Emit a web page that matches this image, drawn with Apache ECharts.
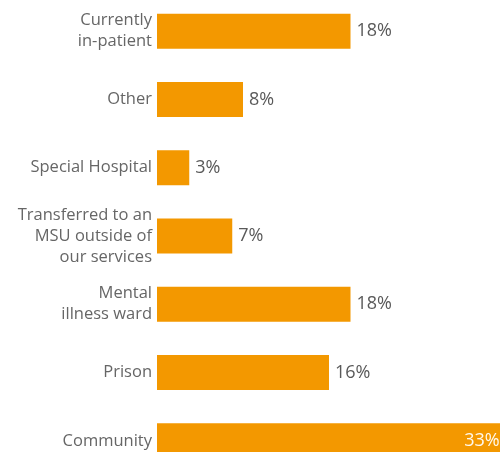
<!DOCTYPE html>
<html>
<head>
<meta charset="utf-8">
<script src="https://cdn.jsdelivr.net/npm/echarts@6/dist/echarts.min.js"></script>
<style>
html,body{margin:0;padding:0;background:#fff}
#main{width:500px;height:452px}
</style>
</head>
<body>
<div id="main"></div>
<script>
var categories = [
    'Currently\nin-patient',
    'Other',
    'Special Hospital',
    'Transferred to an\nMSU outside of\nour services',
    'Mental\nillness ward',
    'Prison',
    'Community'
]
var values = [18, 8, 3, 7, 18, 16, 33]

var myChart = echarts.init(document.getElementById('main'))
var option = {
    backgroundColor: '#ffffff',
    animation: false,
    grid: {
        left: 157,
        right: -87,
        top: -3,
        bottom: -23,
        containLabel: false,
        outerBoundsMode: 'none'
    },
    xAxis: {
        type: 'value',
        min: 0,
        max: 40,
        show: false
    },
    yAxis: {
        type: 'category',
        inverse: true,
        data: categories,
        axisLine: {show: false},
        axisTick: {show: false},
        axisLabel: {
            margin: 5,
            color: '#666666',
            fontSize: 16.5,
            lineHeight: 21,
            fontFamily: 'Open Sans',
            align: 'right'
        }
    },
    series: [{
        type: 'bar',
        data: values.map(function (v, i) {
            if (i === values.length - 1) {
                return {value: v, label: {position: 'insideRight', color: '#fff8ec', distance: 12}}
            }
            return v
        }),
        barWidth: 35,
        itemStyle: {color: '#f39800'},
        label: {
            show: true,
            position: 'right',
            distance: 6,
            formatter: '{c}%',
            color: '#595959',
            fontSize: 18,
            fontFamily: 'Open Sans'
        }
    }]
}
myChart.setOption(option)
</script>
</body>
</html>
